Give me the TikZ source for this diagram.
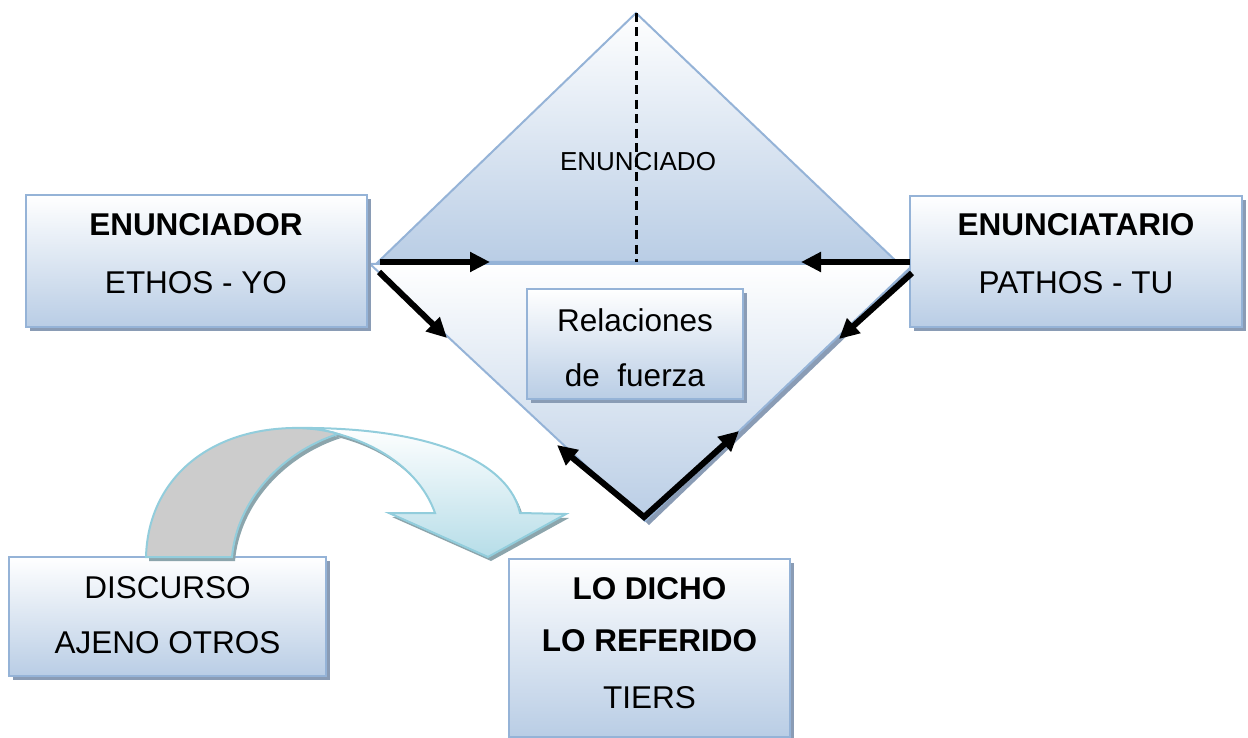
\documentclass[tikz,border=0pt]{standalone}
\usepackage{fontspec}
\setmainfont{Liberation Sans}
\usetikzlibrary{arrows.meta,shadows}
\definecolor{boxbot}{HTML}{B9CDE5}
\definecolor{boxline}{HTML}{95B3D7}
\definecolor{boxshadow}{HTML}{8A9CB5}
\definecolor{aqualine}{HTML}{92CDDC}
\definecolor{aquabot}{HTML}{B6DDE8}
\definecolor{arcshadow}{HTML}{8CA5AC}
\definecolor{backgray}{HTML}{CCCCCC}
\begin{document}
\begin{tikzpicture}[x=1pt,y=-1pt,
  boxshade/.style={draw=boxline, line width=2pt, top color=white, bottom color=boxbot},
  shadowed/.style={drop shadow={shadow xshift=4pt, shadow yshift=-4pt, fill=boxshadow, opacity=1}},
  box/.style={boxshade, shadowed, line width=2.4pt, inner sep=0pt},
  lbl/.style={anchor=base, inner sep=0pt, font=\fontsize{31.5}{36}\selectfont},
  bld/.style={anchor=base, inner sep=0pt, font=\fontsize{31.5}{36}\selectfont\bfseries},
  force/.style={line width=6pt, -{Triangle[length=20pt,width=19pt]}},
  twoforce/.style={line width=6pt, {Triangle[length=20pt,width=19pt]}-{Triangle[length=20pt,width=19pt]}},
  axis/.style={line width=3pt, dash pattern=on 9pt off 5.5pt},
  arcpart/.style={draw=aqualine, line width=2pt, drop shadow={shadow xshift=3pt, shadow yshift=-4pt, fill=arcshadow, opacity=1}}
]
\useasboundingbox (0,0) rectangle (1248,738);

% triangle corners
\coordinate (apex) at (636,13);
\coordinate (tl) at (378,262);
\coordinate (tr) at (897,262);
\coordinate (base) at (636,262);
\coordinate (ll) at (370,264);
\coordinate (lr) at (914,264);
\coordinate (lb) at (645,521);

% lower (inverted) triangle
\path[boxshade, shadowed] (ll) -- (lr) -- (lb) -- cycle;
% upper triangle
\path[boxshade] (apex) -- (tr) -- (tl) -- cycle;

\node[anchor=base, inner sep=0pt, font=\fontsize{26}{30}\selectfont] (enunciado) at (638,171) {ENUNCIADO};
\draw[axis] (apex) -- (base);

% boxes
\node[box, minimum width=341pt, minimum height=132pt] (enunciador) at (196.5,261) {};
\node[bld] (t1) at (196,236) {ENUNCIADOR};
\node[lbl] (t2) at (196,293) {ETHOS - YO};

\node[box, minimum width=332pt, minimum height=131pt] (enunciatario) at (1076,261.5) {};
\node[bld] (t3) at (1076,236) {ENUNCIATARIO};
\node[lbl] (t4) at (1076,293) {PATHOS - TU};

\node[box, minimum width=216pt, minimum height=110pt] (relaciones) at (635,344) {};
\node[lbl] (t5) at (635,331) {Relaciones};
\node[lbl] (t6) at (635,386) {de\ \ fuerza};

\node[box, minimum width=317pt, minimum height=119pt] (discurso) at (167.5,616.5) {};
\node[lbl] (t7) at (167.5,598) {DISCURSO};
\node[lbl] (t8) at (167.5,653) {AJENO OTROS};

\node[box, minimum width=281pt, minimum height=178pt] (lodicho) at (649.5,648) {};
\node[bld] (t9) at (649.5,599) {LO DICHO};
\node[bld] (t10) at (649.5,651) {LO REFERIDO};
\node[lbl] (t11) at (649.5,708) {TIERS};

% force arrows
\coordinate (a1s) at (380,262);
\coordinate (a1e) at (490,262);
\coordinate (a2s) at (910,262);
\coordinate (a2e) at (801,262);
\coordinate (a3s) at (379,272);
\coordinate (a3e) at (447,338);
\coordinate (a4s) at (912,273);
\coordinate (a4e) at (839,339);
\coordinate (a5e) at (557,445);
\coordinate (vb) at (644,517);
\coordinate (a6e) at (739,431);
\draw[force] (a1s) -- (a1e);
\draw[force] (a2s) -- (a2e);
\draw[force] (a3s) -- (a3e);
\draw[force] (a4s) -- (a4e);
\draw[twoforce, line join=miter] (a5e) -- (vb) -- (a6e);

% curved arrow
\path[arcpart, top color=white, bottom color=aquabot]
  (292,428) .. controls (440,426) and (510,466) .. (520,513)
  -- (566,514) -- (488,557) -- (389,513) -- (435,513)
  .. controls (422,476) and (386,447) .. (338,434)
  .. controls (326,430) and (310,428) .. (292,428) -- cycle;
\path[arcpart, fill=backgray]
  (146,557) .. controls (148,482) and (205,430) .. (292,428)
  .. controls (310,428) and (326,430) .. (338,434)
  .. controls (282,452) and (237,500) .. (232,557) -- cycle;
\end{tikzpicture}
\end{document}
